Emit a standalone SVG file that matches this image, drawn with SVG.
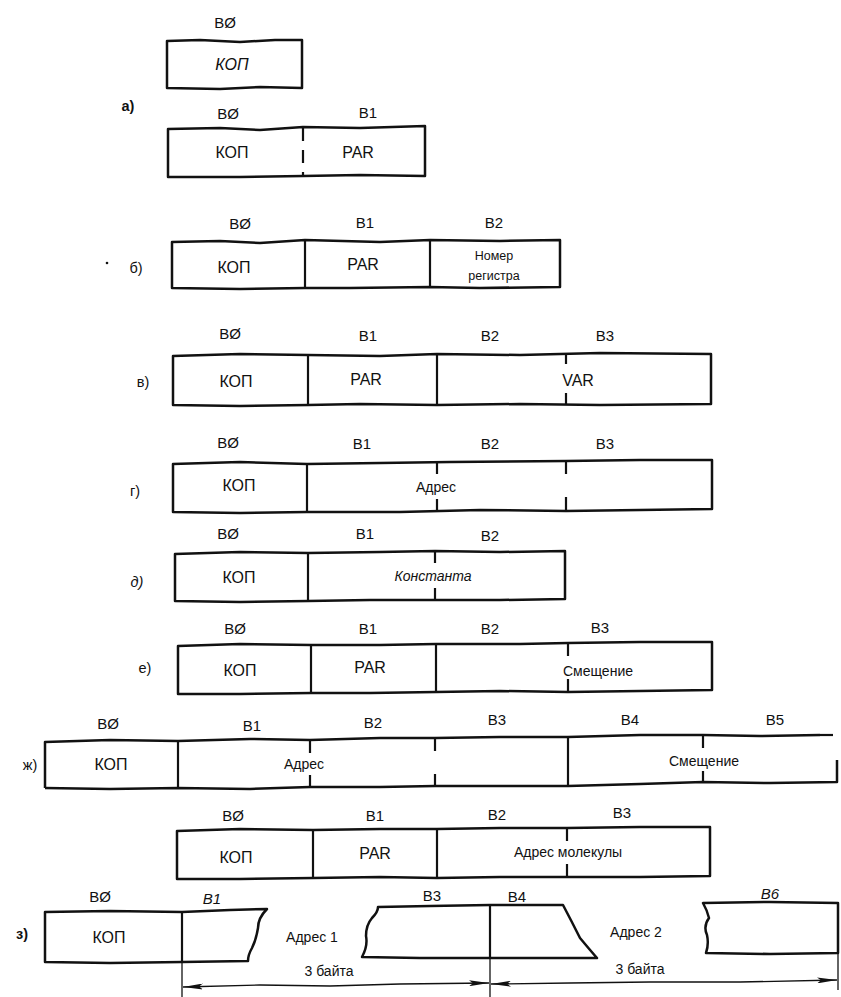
<svg xmlns="http://www.w3.org/2000/svg" width="841" height="997" viewBox="0 0 841 997">
<style>
  .box { fill: none; stroke: #111; stroke-width: 2.5; stroke-linejoin: round; }
  .div { stroke: #111; stroke-width: 2.2; fill: none; }
  .dash { stroke: #111; stroke-width: 2.2; stroke-dasharray: 13 9; }
  .dim { stroke: #111; stroke-width: 1.3; fill: none; }
  text { font-family: "Liberation Sans", Arial, sans-serif; fill: #111; dominant-baseline: central; }
  .hd { font-size: 15px; text-anchor: middle; }
  .fld { font-size: 16px; text-anchor: middle; }
  .txt { font-size: 14px; text-anchor: middle; }
  .sm { font-size: 12.5px; text-anchor: middle; }
  .lbl { font-size: 14.5px; text-anchor: middle; }
</style>
<defs>
  <marker id="arrow" viewBox="0 0 20 6" refX="20" refY="3" markerWidth="20" markerHeight="6" orient="auto-start-reverse" markerUnits="userSpaceOnUse">
    <path d="M0,0 L20,3 L0,6 L4,3 Z" fill="#111"/>
  </marker>
</defs>

<rect width="841" height="997" fill="#fff"/>

<!-- а: single byte -->
<g id="fmt-a1">
  <text class="hd" x="225" y="22">BØ</text>
  <path class="box" d="M167,41 L200,40 L240,42 L275,40 L302,40 L302,88 L260,87 L220,89 L167,88 Z"/>
  <text class="fld" x="232" y="64" font-style="italic">КОП</text>
</g>
<text id="label-a" class="lbl" x="128" y="106" font-weight="bold">а)</text>

<!-- а: two bytes -->
<g id="fmt-a2">
  <text class="hd" x="228" y="113">BØ</text>
  <text class="hd" x="368" y="112">B1</text>
  <path class="box" d="M168,129 L220,128 L260,130 L303,127 L360,128 L425,126 L425,176 L360,175 L303,176 L240,177 L168,177 Z"/>
  <line class="dash" x1="303" y1="128" x2="303" y2="176"/>
  <text class="fld" x="232" y="152">КОП</text>
  <text class="fld" x="358" y="152">PAR</text>
</g>

<!-- б -->
<g id="fmt-b">
  <circle cx="107" cy="263" r="1.3" fill="#111"/>
  <text class="lbl" x="136" y="268">б)</text>
  <text class="hd" x="240" y="223">BØ</text>
  <text class="hd" x="365" y="222">B1</text>
  <text class="hd" x="494" y="222">B2</text>
  <path class="box" d="M172,242 L220,241 L260,243 L305,240 L380,242 L430,240 L500,241 L560,240 L560,287 L480,288 L430,287 L350,288 L305,288 L240,289 L172,288 Z"/>
  <line class="div" x1="305" y1="240" x2="305" y2="288"/>
  <line class="div" x1="430" y1="240" x2="430" y2="287"/>
  <text class="fld" x="234" y="267">КОП</text>
  <text class="fld" x="363" y="264">PAR</text>
  <text class="sm" x="494" y="256">Номер</text>
  <text class="sm" x="494" y="276">регистра</text>
</g>

<!-- в -->
<g id="fmt-v">
  <text class="lbl" x="143" y="382">в)</text>
  <text class="hd" x="230" y="333">BØ</text>
  <text class="hd" x="368" y="335">B1</text>
  <text class="hd" x="490" y="335">B2</text>
  <text class="hd" x="605" y="335">B3</text>
  <path class="box" d="M173,356 L240,354 L308,355 L380,356 L437,354 L520,355 L600,353 L711,354 L711,404 L600,405 L520,404 L437,405 L360,404 L308,405 L240,406 L173,405 Z"/>
  <line class="div" x1="308" y1="355" x2="308" y2="405"/>
  <line class="div" x1="437" y1="354" x2="437" y2="405"/>
  <line class="div" x1="566" y1="354" x2="566" y2="364"/>
  <line class="div" x1="566" y1="393" x2="566" y2="404"/>
  <text class="fld" x="236" y="381">КОП</text>
  <text class="fld" x="366" y="379">PAR</text>
  <text class="fld" x="578" y="380">VAR</text>
</g>

<!-- г -->
<g id="fmt-g">
  <text class="lbl" x="135" y="491">г)</text>
  <text class="hd" x="228" y="442">BØ</text>
  <text class="hd" x="362" y="443">B1</text>
  <text class="hd" x="490" y="443">B2</text>
  <text class="hd" x="605" y="443">B3</text>
  <path class="box" d="M173,464 L240,462 L307,464 L380,463 L450,462 L566,461 L640,460 L712,460 L712,509 L640,510 L566,511 L480,510 L400,512 L307,512 L240,513 L173,512 Z"/>
  <line class="div" x1="307" y1="464" x2="307" y2="512"/>
  <line class="div" x1="437" y1="462" x2="437" y2="474"/>
  <line class="div" x1="437" y1="499" x2="437" y2="511"/>
  <line class="div" x1="566" y1="461" x2="566" y2="474"/>
  <line class="div" x1="566" y1="497" x2="566" y2="511"/>
  <text class="fld" x="239" y="485">КОП</text>
  <text class="txt" x="436" y="487">Адрес</text>
</g>

<!-- д -->
<g id="fmt-d">
  <text class="lbl" x="137" y="582" font-style="italic">д)</text>
  <text class="hd" x="228" y="533">BØ</text>
  <text class="hd" x="365" y="533">B1</text>
  <text class="hd" x="490" y="535">B2</text>
  <path class="box" d="M175,554 L240,552 L308,553 L380,552 L435,551 L500,552 L565,551 L565,599 L500,600 L435,600 L370,600 L308,601 L240,602 L175,601 Z"/>
  <line class="div" x1="308" y1="553" x2="308" y2="601"/>
  <line class="div" x1="435" y1="551" x2="435" y2="563"/>
  <line class="div" x1="435" y1="588" x2="435" y2="600"/>
  <text class="fld" x="239" y="577">КОП</text>
  <text class="txt" x="433" y="576" font-style="italic">Константа</text>
</g>

<!-- е -->
<g id="fmt-e">
  <text class="lbl" x="145" y="668">е)</text>
  <text class="hd" x="235" y="628">BØ</text>
  <text class="hd" x="368" y="628">B1</text>
  <text class="hd" x="490" y="628">B2</text>
  <text class="hd" x="600" y="627">B3</text>
  <path class="box" d="M178,646 L240,644 L311,645 L380,645 L436,644 L520,644 L568,643 L640,642 L712,642 L712,690 L640,691 L568,692 L500,691 L436,692 L370,693 L311,693 L240,694 L178,694 Z"/>
  <line class="div" x1="311" y1="645" x2="311" y2="693"/>
  <line class="div" x1="436" y1="644" x2="436" y2="692"/>
  <line class="div" x1="568" y1="643" x2="568" y2="656"/>
  <line class="div" x1="568" y1="679" x2="568" y2="692"/>
  <text class="fld" x="240" y="670">КОП</text>
  <text class="fld" x="370" y="667">PAR</text>
  <text class="txt" x="598" y="671">Смещение</text>
</g>

<!-- ж -->
<g id="fmt-zh">
  <text class="lbl" x="30" y="765">ж)</text>
  <text class="hd" x="108" y="723">BØ</text>
  <text class="hd" x="252" y="725">B1</text>
  <text class="hd" x="373" y="722">B2</text>
  <text class="hd" x="497" y="719">B3</text>
  <text class="hd" x="630" y="719">B4</text>
  <text class="hd" x="775" y="719">B5</text>
  <path class="box" d="M45,788 L45,742 L110,740 L178,741 L250,739 L310,740 L380,738 L435,738 L500,737 L568,737 L640,735 L703,735 L760,736 L820,735"/>
  <line class="dash" x1="820" y1="735" x2="836" y2="735" stroke-dasharray="4 3" stroke-width="1.5"/>
  <path class="box" d="M45,788 L110,789 L178,788 L250,789 L310,787 L380,787 L435,786 L500,786 L568,786 L640,784 L703,782 L770,783 L837,782 L837,760"/>
  <line class="div" x1="178" y1="741" x2="178" y2="788"/>
  <line class="div" x1="310" y1="740" x2="310" y2="753"/>
  <line class="div" x1="310" y1="775" x2="310" y2="787"/>
  <line class="div" x1="435" y1="738" x2="435" y2="751"/>
  <line class="div" x1="435" y1="774" x2="435" y2="786"/>
  <line class="div" x1="568" y1="737" x2="568" y2="786"/>
  <line class="div" x1="703" y1="735" x2="703" y2="748"/>
  <line class="div" x1="703" y1="771" x2="703" y2="782"/>
  <text class="fld" x="111" y="764">КОП</text>
  <text class="txt" x="304" y="764">Адрес</text>
  <text class="txt" x="704" y="761">Смещение</text>
</g>

<!-- ж: molecule address -->
<g id="fmt-zh2">
  <text class="hd" x="233" y="815">BØ</text>
  <text class="hd" x="375" y="815">B1</text>
  <text class="hd" x="497" y="814">B2</text>
  <text class="hd" x="622" y="812">B3</text>
  <path class="box" d="M177,831 L240,829 L313,830 L380,829 L437,829 L500,828 L567,828 L640,827 L710,827 L710,876 L640,877 L567,877 L500,877 L437,878 L380,877 L313,878 L240,879 L177,879 Z"/>
  <line class="div" x1="313" y1="830" x2="313" y2="878"/>
  <line class="div" x1="437" y1="829" x2="437" y2="878"/>
  <line class="div" x1="567" y1="828" x2="567" y2="841"/>
  <line class="div" x1="567" y1="864" x2="567" y2="877"/>
  <text class="fld" x="236" y="857">КОП</text>
  <text class="fld" x="375" y="853">PAR</text>
  <text class="txt" x="568" y="852">Адрес молекулы</text>
</g>

<!-- з: two addresses split across the format -->
<g id="fmt-z">
  <text class="lbl" x="22" y="934" font-weight="bold">з)</text>
  <text class="hd" x="100" y="896">BØ</text>
  <text class="hd" x="212" y="898" font-style="italic">B1</text>
  <text class="hd" x="432" y="895">B3</text>
  <text class="hd" x="517" y="896">B4</text>
  <text class="hd" x="770" y="893" font-style="italic">B6</text>
  <path class="box" d="M45,962 L45,912 L110,911 L182,912 L230,910 L267,909 Q258,918 258,928 Q256,940 252,948 Q248,955 248,961 L182,962 L110,963 Z"/>
  <line class="div" x1="182" y1="912" x2="182" y2="962"/>
  <path class="box" d="M378,907 L430,906 L490,905 L563,905 Q572,922 580,938 Q590,950 597,958 L490,958 L420,958 L362,957 Q368,946 366,936 Q366,925 372,918 Q378,912 378,907 Z"/>
  <line class="div" x1="490" y1="905" x2="490" y2="958"/>
  <path class="box" d="M703,903 L770,902 L838,903 L838,953 L770,954 L706,953 Q709,944 707,935 Q703,926 709,918 Q707,910 703,903 Z"/>
  <text class="fld" x="109" y="937">КОП</text>
  <text class="txt" x="312" y="937">Адрес 1</text>
  <text class="txt" x="636" y="932">Адрес 2</text>
</g>

<!-- size brackets -->
<g id="connectors">
  <line class="dim" x1="182" y1="962" x2="182" y2="997"/>
  <line class="dim" x1="490" y1="958" x2="490" y2="997"/>
  <line class="dim" x1="838" y1="953" x2="838" y2="990"/>
  <path class="dim" d="M183,987 L260,985 L330,986 L400,984 L489,983" marker-start="url(#arrow)" marker-end="url(#arrow)"/>
  <path class="dim" d="M491,984 L570,983 L650,982 L740,982 L837,980" marker-start="url(#arrow)" marker-end="url(#arrow)"/>
  <text class="txt" x="329" y="971">3 байта</text>
  <text class="txt" x="640" y="969">3 байта</text>
</g>
</svg>
